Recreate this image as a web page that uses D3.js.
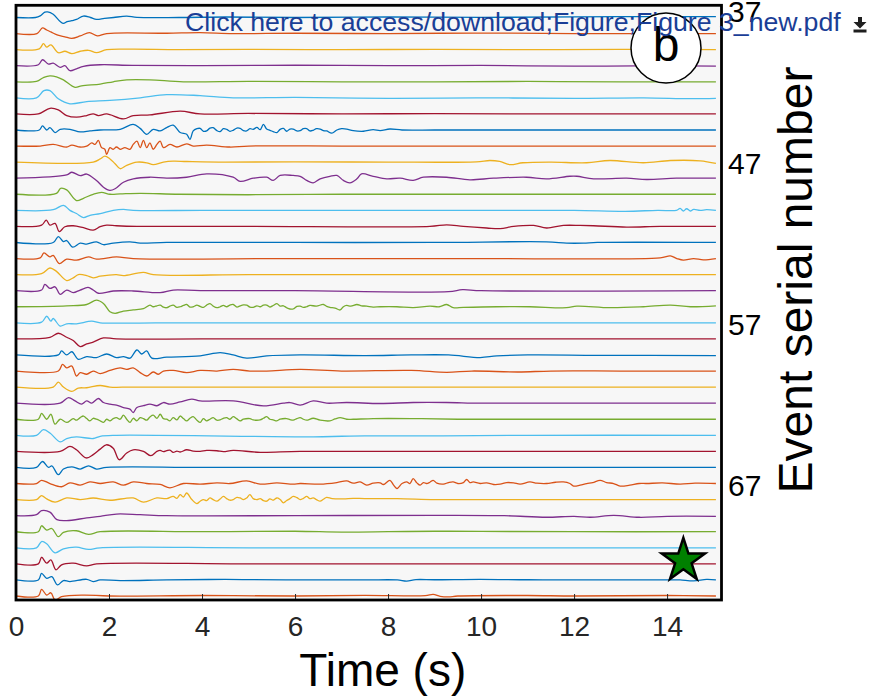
<!DOCTYPE html>
<html>
<head>
<meta charset="utf-8">
<script src="https://cdn.jsdelivr.net/npm/d3@7"></script>
<style>
  html, body { margin: 0; padding: 0; background: #ffffff; }
  svg { display: block; }
  text { font-family: "Liberation Sans", Arial, Helvetica, sans-serif; }
</style>
</head>
<body>
<svg id="chart" width="885" height="697"></svg>
<script>
// ---------------- DATA ----------------
// Event numbers of the plotted traces (top to bottom)
const firstEvent = 38;
const lastEvent = 74;
// Tick labels
const timeTicks = [0, 2, 4, 6, 8, 10, 12, 14];
const eventTicks = [37, 47, 57, 67];
// Series colours (cycled)
const traceColors = ["#0072BD", "#D95319", "#EDB120", "#7E2F8E", "#77AC30", "#4DBEEE", "#A2142F"];
// Marker
const starTime = 14.35;
const starEvent = 71.8;
// Waveforms: flattened [time (s), amplitude (tenths of trace spacing, up positive)] pairs
const w38 = [0,0, 0.42,0, 0.52,1, 0.62,3.3, 0.68,3.5, 0.8,2, 0.95,-2.5, 1.02,-3.7, 1.1,-2.6, 1.2,-2, 1.3,-1.2, 1.45,0.9, 1.6,0, 1.73,-1.2, 1.9,-0.6, 2.1,0, 2.38,0.8, 2.6,0.1, 3.5,0, 4.5,0.3, 6,0, 8,0.3, 10,0.1, 12,0.4, 13.5,0.6, 15.05,0.5];
const w39 = [0,0, 0.45,0, 0.57,3.5, 0.66,2.2, 0.75,1, 0.9,-1, 1.05,-2, 1.2,-3, 1.38,-1.5, 1.58,0.6, 1.75,-1.4, 1.95,0, 3.24,0.2, 3.96,0.6, 4.67,0, 6,0.2, 8,0, 10,0.3, 12,0, 15.05,0];
const w40 = [0,0, 0.5,0.5, 0.59,3.7, 0.66,1.6, 0.75,3, 0.91,-1.9, 1.05,-1, 1.2,-2.5, 1.38,-1, 1.56,-0.4, 1.73,-1.9, 1.95,0, 2.5,0.3, 3.5,0, 5,0.2, 7,0, 9,0.2, 11,0, 13,0.2, 15.05,0];
const w41 = [0,0, 0.48,0.6, 0.57,3.7, 0.7,1, 0.8,1.6, 0.95,-1, 1.05,0, 1.16,-3.1, 1.3,-1.9, 1.45,-0.4, 1.81,0.6, 2.5,0.2, 4,0, 6,0.3, 8,0, 10,0.2, 12,-0.3, 14,0, 15.05,-0.3];
const w42 = [0,0, 0.44,0.2, 0.6,2.8, 0.73,3.7, 0.87,3.1, 1.02,1.2, 1.27,-3.5, 1.41,-2.5, 1.81,-1.4, 2.09,0, 2.38,1.2, 2.88,1.2, 3.6,0, 5,0.3, 7,0, 9,0, 11,0.2, 13,0, 15.05,0];
const w43 = [0,0, 0.44,0, 0.6,4.5, 0.73,4.5, 0.91,-0.6, 1.16,-3.7, 1.52,-2.3, 2.02,-1.6, 2.67,0, 3.24,2, 3.96,1.4, 4.67,0, 6,0.3, 8,-0.3, 10,0, 12,-0.3, 13.5,0, 14.5,-0.5, 15.05,-0.3];
const w44 = [0,0, 0.48,0, 0.73,3.5, 0.91,2.5, 1.09,-1, 1.3,-2, 1.52,-1, 1.66,0, 1.77,-1, 1.95,0, 2.31,-3.1, 2.52,-1, 2.88,-0.6, 3.53,1.7, 3.96,0, 5,0.3, 7,0, 9,0.2, 11,0, 13,0, 15.05,0];
const w45 = [0,0, 0.5,0, 0.57,2.5, 0.66,0, 0.73,1.5, 0.84,-1.6, 0.95,0.4, 1.16,0.4, 1.38,-1.2, 1.59,-0.6, 1.81,0, 2.24,0.4, 2.52,3.5, 2.67,1, 2.81,-2.7, 2.95,0.4, 3.1,-0.6, 3.24,1.5, 3.38,3, 3.53,-1.6, 3.67,-2.7, 3.74,-5.8, 3.81,-0.6, 3.89,0.8, 3.96,1, 4.03,-0.8, 4.1,-0.6, 4.17,1.2, 4.24,1.4, 4.32,-0.4, 4.39,-1, 4.46,0.8, 4.53,0.4, 4.6,-0.8, 4.67,-0.2, 4.75,1.2, 4.82,1, 4.89,-0.4, 4.96,-0.6, 5.03,0.8, 5.1,0.4, 5.18,1.6, 5.25,0.2, 5.32,3.5, 5.39,0.6, 5.46,-0.2, 5.53,-1, 5.61,-1.6, 5.68,0.4, 5.75,1, 5.82,-0.8, 5.89,0.6, 5.96,0.6, 6.04,-0.6, 6.11,-0.4, 6.18,0.8, 6.25,0.8, 6.32,-0.6, 6.39,-0.2, 6.46,0.8, 6.54,0.6, 6.61,-0.4, 6.68,-0.6, 6.79,-2, 6.9,0, 7.0,0.8, 7.11,0.6, 7.25,-0.4, 7.47,-0.8, 7.68,0.2, 7.83,-0.4, 8.04,0.6, 8.3,0, 9,0, 10,0, 12,0, 15.05,0];
const w46 = [0,0, 0.52,0, 0.8,1, 1.09,-0.6, 1.2,0.6, 1.38,-0.6, 1.52,0, 1.63,2, 1.7,1, 1.77,3.5, 1.84,-1, 1.91,-2, 1.95,-5.2, 2.02,-1, 2.09,-2, 2.16,-0.6, 2.24,-2, 2.34,-1, 2.45,-2, 2.52,1, 2.6,3.1, 2.67,-1, 2.74,3.5, 2.81,-1, 2.88,2, 2.95,-2, 3.03,1, 3.1,3.1, 3.17,-1, 3.31,1, 3.46,-0.6, 3.67,1.4, 3.81,0, 4.1,0.6, 4.6,-0.6, 5,0, 7,0, 9,0, 11,0, 13,0, 15.05,0];
const w47 = [0,0, 1.66,0, 1.81,2, 1.91,3.7, 2.02,2, 2.13,-1, 2.24,-4.1, 2.38,-2, 2.6,0, 2.81,-0.4, 2.95,-1.6, 3.17,0, 3.38,0.6, 3.67,0.4, 4.5,0, 6,0.2, 8,0, 9.9,0.2, 10.19,1, 10.4,0.4, 10.62,-1.6, 10.9,-0.4, 11.5,0, 12.27,-0.4, 12.77,1, 13.49,-0.4, 14.07,1, 14.71,0.8, 15.05,-0.8];
const w48 = [0,0, 1.09,2, 1.2,3.7, 1.38,1.6, 1.52,2.6, 1.73,-1.4, 1.88,-5.6, 2.02,-7.6, 2.13,-6.6, 2.31,-2.5, 2.52,-0.4, 2.88,0.6, 3.24,0, 3.67,0.6, 4.1,2.7, 4.67,0.6, 4.82,-2, 5.1,0, 5.39,0.6, 5.53,-1.4, 5.68,1.7, 5.96,1.7, 6.11,1.2, 6.25,-1.4, 6.39,-2.9, 6.54,-0.4, 6.75,1.2, 6.9,1.7, 7.04,-1.4, 7.18,-2.9, 7.33,-0.4, 7.43,2.7, 7.68,1.2, 7.97,-0.4, 8.26,0, 8.54,-1.4, 8.76,0.6, 9.26,0.6, 9.76,-1, 10.27,0, 10.98,0.6, 11.41,-0.4, 11.91,1.2, 12.06,1.2, 12.42,-0.4, 13.13,0, 13.56,-0.8, 14.2,0, 15.05,0];
const w49 = [0,0, 0.87,0.6, 0.96,3.7, 1.09,2.7, 1.3,-3.9, 1.45,-2.5, 1.66,0, 1.84,1.2, 2.02,0, 2.24,0.2, 2.67,0.6, 3.5,0, 5,-0.3, 7,0, 9,0, 11,0, 13,0, 15.05,0];
const w50 = [0,0, 0.8,0.4, 1.02,3.1, 1.16,0, 1.3,-2, 1.45,-4.5, 1.59,-3.1, 1.81,-2, 2.09,0, 2.31,0.6, 2.52,0, 4,0, 6,0, 8,0, 10,0, 12,0, 13.1,-0.6, 13.8,0, 14.2,0, 14.28,1.2, 14.35,-0.4, 14.42,1, 14.5,-0.4, 14.57,0.6, 14.71,0, 14.85,0.4, 15.05,0];
const w51 = [0,0, 0.55,0.8, 0.65,3.9, 0.73,0.8, 0.84,1.9, 0.93,-3.3, 1.05,-0.2, 1.23,0.4, 1.45,-0.8, 1.66,-2.3, 1.81,-0.2, 1.95,0.8, 2.16,0.4, 2.6,0, 5,0, 8.9,0, 9.26,1, 9.62,0, 10.12,-1, 10.41,-1.4, 10.7,0, 11.13,0.6, 11.41,-1, 11.77,0.6, 12.13,0.6, 12.42,0.4, 13.13,-0.4, 13.85,0, 15.05,0];
const w52 = [0,0, 0.8,0, 0.91,3.7, 1.02,0.6, 1.09,1.2, 1.22,-2.9, 1.38,-0.4, 1.52,-1, 1.73,0.4, 1.88,-1.4, 2.09,-0.4, 2.45,0.4, 2.67,-0.4, 3.24,0, 6,0, 9,0, 11.41,0.4, 11.84,-0.4, 12.2,-0.4, 12.5,0, 15.05,0];
const w53 = [0,0, 0.52,0.4, 0.6,3.5, 0.73,1, 0.8,2, 0.93,-3.1, 1.09,-0.4, 1.3,-1, 1.56,1, 1.73,-0.4, 2.16,1, 2.52,0, 6,0, 10,0, 13.85,0.4, 14.07,1.6, 14.21,0, 14.35,-1, 14.57,0, 14.78,-0.8, 15.05,0];
const w54 = [0,0, 0.55,0.6, 0.73,4.1, 0.87,2, 1.09,-3.7, 1.23,-2, 1.34,0, 1.52,-0.6, 1.66,-2, 1.81,-1, 2.16,0, 2.31,-0.6, 2.74,1.4, 2.95,0, 5,0, 8,0, 11,0, 15.05,0];
const w55 = [0,0, 0.55,0.4, 0.62,3.9, 0.73,1.4, 0.84,2.4, 0.95,-2.3, 1.09,0.4, 1.23,-1.2, 1.38,0.4, 1.55,2, 1.66,0.4, 1.77,-1.6, 2.09,-0.2, 2.52,-0.2, 3.1,-1.2, 3.38,0.4, 3.96,0, 6,0, 9.3,-0.6, 9.6,0.6, 10,0, 15.05,0];
const w56 = [0,0, 1.09,0.6, 1.52,1.4, 1.73,4.1, 1.88,2, 2.02,-3.1, 2.13,-4.1, 2.31,-2.7, 2.52,-2, 2.74,-1.2, 2.88,1, 2.95,0, 3.03,0.6, 3.1,1, 3.17,-0.2, 3.24,-0.6, 3.31,0.4, 3.38,1, 3.46,-0.4, 3.53,0, 3.6,0.8, 3.67,1.4, 3.74,-0.2, 3.81,0, 3.89,1, 3.96,0.2, 4.03,-0.4, 4.1,1, 4.17,2, 4.24,0.4, 4.32,-0.6, 4.39,0, 4.46,0.8, 4.53,0, 4.6,1, 4.67,1.4, 4.75,-0.2, 4.82,0.6, 4.89,1.2, 4.96,1, 5.03,-0.2, 5.1,-0.4, 5.18,0.6, 5.25,0, 5.32,1, 5.39,1, 5.46,-0.2, 5.53,0.8, 5.61,2, 5.68,0.4, 5.75,0.6, 5.82,-0.6, 5.89,-1.4, 5.96,-1.4, 6.04,0.2, 6.11,0.4, 6.18,-0.4, 6.25,0, 6.32,0.8, 6.46,0.4, 6.61,1.4, 6.68,0.2, 6.75,-0.4, 6.86,-0.8, 6.97,-2, 7.04,0, 7.11,0.8, 7.2,0.4, 7.33,1.4, 7.43,0.6, 7.54,0.4, 7.68,-0.2, 7.83,0, 8.19,0, 8.54,-0.6, 8.9,0.4, 9.1,0, 9.26,1.4, 9.4,-0.6, 9.62,-0.4, 10.34,0, 11.05,0, 11.84,-0.6, 12.06,0.4, 12.77,-0.6, 13.49,0, 14.07,1, 14.5,0, 15.05,0.6];
const w57 = [0,0, 0.55,0.4, 0.66,4.1, 0.75,1, 0.8,2.7, 0.95,-2, 1.09,-0.6, 1.3,-0.6, 1.63,1, 1.81,0, 3,0, 6,0, 9,0, 12,0, 15.05,0];
const w58 = [0,0, 0.73,1, 0.91,3.5, 1.09,1, 1.23,-1, 1.38,-4.8, 1.52,-3.1, 1.66,-2, 1.88,0.6, 2.16,0, 4,0, 8,0, 12,0, 15.05,0];
const w59 = [0,0, 0.91,0, 0.98,2.5, 1.09,0, 1.2,2, 1.34,-2.7, 1.52,-1, 1.73,-1.6, 1.95,0.6, 2.16,-1.6, 2.31,-1, 2.45,-2, 2.6,3.1, 2.7,0.6, 2.81,2.5, 2.92,-2, 3.24,-1.4, 3.96,-0.6, 4.39,1.4, 4.67,0, 4.96,-2, 5.39,-0.6, 6.11,0, 7.5,-0.4, 8.5,0, 9.3,0, 9.98,-1.6, 10.34,-0.6, 11,0, 12.5,-0.2, 15.05,-0.4];
const w60 = [0,0, 0.91,0, 1.0,4.1, 1.09,2, 1.2,3.1, 1.3,-3.1, 1.38,-1, 1.52,-2, 1.66,0, 1.81,-1.6, 2.02,0.4, 2.24,2, 2.38,1, 2.52,2, 2.67,-1, 2.81,-3.1, 2.95,-0.6, 3.06,-2, 3.17,0, 3.38,0.4, 3.67,-1, 3.96,0.4, 4.32,0, 4.67,1, 5.03,0, 5.39,0, 6.11,1, 7,0, 8.5,0.4, 9.26,-0.8, 9.8,0, 10.8,-0.6, 11.5,0, 13,0, 15.05,0];
const w61 = [0,0, 0.8,0, 0.91,3.1, 1.02,0, 1.2,-2.7, 1.34,-0.6, 1.52,-0.4, 1.81,1, 2.02,0, 2.5,0, 5,0, 8,0, 11,0, 15.05,0];
const w62 = [0,0, 0.95,0, 1.13,3.5, 1.27,1.4, 1.41,-0.6, 1.52,1.4, 1.63,0, 1.77,2.9, 1.88,0.4, 2.02,-0.6, 2.16,-1.2, 2.31,-2.7, 2.45,-3.7, 2.52,-5.8, 2.6,-2.7, 2.74,-1.6, 2.88,-0.6, 3.03,-1.6, 3.17,0.4, 3.31,-0.6, 3.53,0.8, 3.78,2.5, 3.96,1.4, 4.67,1.4, 5.32,-1.7, 5.75,0, 5.89,0.4, 6.11,-1.2, 6.39,1.4, 6.68,0, 7.11,0.4, 7.83,-0.2, 8.54,0.4, 9.26,0.4, 10,0, 12,0, 15.05,0];
const w63 = [0,0, 0.48,0, 0.55,3.7, 0.66,0, 0.75,3.1, 0.84,-3.1, 0.95,0, 1.09,-2, 1.23,0.4, 1.3,-0.6, 1.38,1, 1.45,2, 1.52,0.4, 1.59,-1, 1.66,0.6, 1.73,0, 1.81,-1, 1.88,-2, 1.95,0, 2.02,-1, 2.09,0.4, 2.16,1, 2.24,0, 2.31,2.5, 2.38,0, 2.45,-2, 2.52,0.6, 2.6,-1, 2.67,1, 2.74,0.4, 2.81,-0.6, 2.88,1.4, 2.95,2.5, 3.03,0.6, 3.1,3.1, 3.17,0.4, 3.24,0, 3.31,-1, 3.38,1, 3.46,-0.4, 3.53,2, 3.6,0.4, 3.67,-1, 3.74,0.6, 3.81,1.6, 3.89,-0.6, 3.96,-2, 4.03,0.4, 4.1,-1, 4.17,0, 4.24,1, 4.32,-0.6, 4.39,-0.4, 4.46,0.6, 4.53,1, 4.6,0, 4.67,1.6, 4.75,0.2, 4.82,-1, 4.89,0, 5.03,0.4, 5.1,-0.4, 5.25,-0.4, 5.32,0.6, 5.39,1.6, 5.46,0, 5.53,-0.4, 5.61,-1, 5.68,0, 5.82,0.4, 5.89,-0.2, 5.96,-0.6, 6.04,0.4, 6.11,1, 6.18,0, 6.25,-0.6, 6.39,0.6, 6.54,-0.6, 6.75,-1, 6.86,0.2, 6.97,1, 7.11,0, 7.25,0, 7.68,0.4, 8.5,0.4, 9.5,0, 12,0, 15.05,0];
const w64 = [0,0, 0.44,0, 0.59,3.5, 0.73,1.4, 0.95,-4.1, 1.09,-2, 1.3,-1, 1.66,-2, 1.81,-0.6, 2.16,0, 6.4,-1, 7,-0.6, 7.5,-0.4, 9,-0.4, 11,0, 15.05,0];
const w65 = [0,0, 0.95,0, 1.16,3.1, 1.3,1, 1.51,-4.1, 1.66,-2, 1.81,1.4, 1.94,4.1, 2.09,2, 2.22,-5.2, 2.38,-1, 2.52,1, 2.74,0, 2.9,-2.7, 3.03,0, 3.1,0.6, 3.17,-0.2, 3.24,0.4, 3.31,0.8, 3.38,-0.6, 3.46,0.2, 3.53,-0.4, 3.67,1, 3.81,0.2, 3.96,0, 4.1,0.6, 4.32,0.4, 4.46,-0.2, 4.67,0.6, 5.25,-0.6, 6.11,0, 9,0, 12,0, 15.05,0];
const w66 = [0,0, 0.44,0, 0.57,3.7, 0.7,0, 0.77,1, 0.91,-4.5, 1.02,-1, 1.2,0.4, 1.38,-1, 1.56,1, 1.73,-1, 1.95,0, 4,0, 8,0, 12,0, 15.05,0];
const w67 = [0,0, 0.44,0, 0.55,2, 0.73,0, 0.98,-2, 1.16,0.4, 1.38,-1, 1.59,1, 1.81,0, 2.09,1, 2.31,-1, 2.52,1, 2.81,0, 3.1,-0.6, 3.31,-2.7, 3.6,0, 3.96,-0.4, 4.32,0.4, 4.6,0, 4.96,1.6, 5.25,-0.4, 5.61,0.4, 5.96,-0.4, 6.11,0, 6.54,-0.4, 6.9,0.6, 7.11,1.6, 7.25,0.2, 7.4,1, 7.54,-1, 7.68,0.2, 7.83,0.4, 7.9,-0.6, 8.04,2, 8.12,-1, 8.19,-3.1, 8.3,0, 8.4,1, 8.47,0, 8.54,3.1, 8.62,0.4, 8.69,-1, 8.76,0.6, 8.83,0, 8.9,0.8, 8.97,2, 9.05,0.2, 9.19,-0.4, 9.3,0.6, 9.4,1, 9.5,0, 9.62,0.6, 9.69,2.5, 9.76,0.6, 9.83,1, 9.98,0, 10.12,0.4, 10.27,-0.6, 10.41,-0.4, 10.55,0.6, 10.7,0.4, 10.84,-0.4, 11.05,1, 11.2,0.2, 11.41,0, 11.6,0.8, 11.77,1, 11.91,0, 11.99,-1.6, 12.13,-1, 12.27,0, 12.4,0.6, 12.56,2, 12.7,0.6, 12.85,0, 12.99,-1.6, 13.2,-1, 13.4,0, 13.56,0, 13.9,0.4, 14.28,-0.4, 14.6,0.2, 15.05,0];
const w68 = [0,0, 0.44,0, 0.55,2.5, 0.66,0.4, 0.84,-1.6, 1.09,1, 1.38,0, 1.66,1, 2.02,-0.4, 2.52,1, 2.74,-1.6, 3.03,1, 3.24,0.6, 3.38,2, 3.46,0.8, 3.53,3.1, 3.6,1.6, 3.67,4.1, 3.78,0, 3.89,-2.5, 3.96,-1, 4.03,0, 4.1,-0.6, 4.17,1, 4.24,0, 4.32,-1, 4.39,0.4, 4.46,2, 4.53,0.6, 4.6,-0.4, 4.67,0, 4.75,1.4, 4.82,1, 4.89,0, 4.96,1, 5.03,3.1, 5.1,0.6, 5.18,0, 5.25,0.6, 5.32,-0.6, 5.39,-1, 5.46,0.4, 5.53,-0.4, 5.61,1, 5.68,0, 5.75,-2, 5.82,-0.6, 5.89,0.6, 5.96,2, 6.04,1.2, 6.11,0, 6.18,0.8, 6.25,2, 6.32,0.6, 6.39,1, 6.46,0, 6.54,-1, 6.61,0.2, 6.68,1.4, 6.8,0.6, 7.04,0.4, 7.25,0.8, 7.5,0.6, 8.2,0.6, 9,0, 10,0, 12,0, 15.05,0];
const w69 = [0,0, 0.44,0.6, 0.55,3.1, 0.73,2.2, 0.88,-2.5, 1.09,-3.1, 1.52,-1.4, 1.81,-0.4, 2.16,1, 2.67,0.6, 3.24,0, 6,0, 9,0.2, 10.5,0, 11.4,-1, 12,-0.4, 12.35,-1, 12.85,0.2, 13.4,-1, 14,-0.4, 15.05,-0.4];
const w70 = [0,0, 0.48,0, 0.55,3.7, 0.66,1, 0.77,2, 0.91,-3.1, 1.02,-0.4, 1.3,0.6, 1.56,-1.6, 1.81,0, 4,0, 6,0.3, 7,-0.2, 8,0, 9,0.3, 10,0.2, 12,0, 15.05,0];
const w71 = [0,0, 0.44,0, 0.55,3.9, 0.66,2.5, 0.84,-3.1, 1.02,-0.6, 1.3,0.4, 1.56,-1, 1.81,0, 5,0, 10,0, 15.05,0];
const w72 = [0,0, 0.48,0, 0.55,4.1, 0.66,0.4, 0.75,2.5, 0.86,-3.7, 0.98,-0.6, 1.23,0.4, 1.52,-1.2, 1.73,0, 5,0, 10,0, 15.05,0];
const w73 = [0,0, 0.48,0, 0.55,4.1, 0.66,1, 0.77,2, 0.89,-3.1, 1.02,-0.4, 1.16,-1, 1.52,0.4, 1.66,-1, 1.81,0, 2.24,-0.4, 3.24,0, 4.5,0.3, 5.8,0, 7.5,0, 8.2,0, 8.4,-0.7, 8.6,0.2, 9,0.1, 9.98,0.4, 11,0.1, 12,0, 14.1,0, 14.28,0, 14.57,-0.6, 14.85,0.3, 15.05,0];
const w74 = [0,0, 0.48,0, 0.55,4.1, 0.66,0.6, 0.75,2, 0.84,-2.5, 0.98,-0.4, 1.45,0.6, 2,0, 4,0.3, 6,0, 7.5,0.4, 8.8,0.2, 8.97,1.0, 9.12,-0.2, 9.3,-0.6, 9.5,0, 11,0.3, 12,0, 14,0.3, 15.05,0];

const waveforms = [w38, w39, w40, w41, w42, w43, w44, w45, w46, w47, w48, w49, w50, w51, w52, w53, w54, w55, w56,
  w57, w58, w59, w60, w61, w62, w63, w64, w65, w66, w67, w68, w69, w70, w71, w72, w73, w74];

// ---------------- LAYOUT ----------------
const svg = d3.select("#chart");
const W = 885, H = 697;
const plot = { left: 16, right: 721.5, top: 5.3, bottom: 600 };

svg.append("rect").attr("width", W).attr("height", H).attr("fill", "#ffffff");

const x = d3.scaleLinear().domain([0, 15.17]).range([plot.left, plot.right]);
const y = d3.scaleLinear().domain([firstEvent, lastEvent]).range([17.5, 596]);

// plot background
svg.append("rect")
  .attr("x", plot.left).attr("y", plot.top)
  .attr("width", plot.right - plot.left).attr("height", plot.bottom - plot.top)
  .attr("fill", "#f7f7f7");

svg.append("clipPath").attr("id", "clip")
  .append("rect")
  .attr("x", plot.left).attr("y", plot.top)
  .attr("width", plot.right - plot.left).attr("height", plot.bottom - plot.top);

// traces
const line = d3.line()
  .x(d => x(d.t))
  .y(d => y(d.ev - d.v / 10))
  .curve(d3.curveCatmullRom.alpha(0.5));

const traces = waveforms.map((arr, i) => {
  const ev = firstEvent + i;
  const pts = [];
  for (let k = 0; k < arr.length; k += 2) pts.push({ t: arr[k], v: arr[k + 1], ev });
  return { ev, pts, color: traceColors[i % traceColors.length] };
});

svg.append("g").attr("clip-path", "url(#clip)")
  .selectAll("path").data(traces).join("path")
  .attr("d", d => line(d.pts))
  .attr("fill", "none")
  .attr("stroke", d => d.color)
  .attr("stroke-width", 1.3)
  .attr("stroke-linejoin", "round");

// x axis (ticks inward)
const xAxis = d3.axisBottom(x).tickValues(timeTicks).tickSizeInner(-6).tickSizeOuter(0).tickPadding(14);
const gx = svg.append("g").attr("transform", `translate(0,${plot.bottom})`).call(xAxis);
gx.select(".domain").remove();
gx.selectAll(".tick line").attr("stroke", "#262626").attr("stroke-width", 1);
gx.selectAll(".tick text")
  .attr("font-size", 28).attr("fill", "#262626")
  .attr("font-family", "'Liberation Sans', Arial, sans-serif")
  .attr("dy", "0.71em").attr("y", 16);

// y tick labels on right
const yAxis = d3.axisRight(y).tickValues(eventTicks).tickSize(0).tickPadding(0);
const gy = svg.append("g").attr("transform", `translate(728,0)`).call(yAxis);
gy.select(".domain").remove();
gy.selectAll(".tick")
  .attr("transform", d => `translate(0,${Math.max(11, y(d) + 1.5)})`);
gy.selectAll(".tick text")
  .attr("x", 0)
  .attr("font-size", 30).attr("fill", "#000000")
  .attr("font-family", "'Liberation Sans', Arial, sans-serif")
  .attr("text-anchor", "start")
  .attr("dy", "0.36em");

// frame
svg.append("rect")
  .attr("x", plot.left).attr("y", plot.top)
  .attr("width", plot.right - plot.left).attr("height", plot.bottom - plot.top)
  .attr("fill", "none").attr("stroke", "#000").attr("stroke-width", 2.8);

// axis titles
svg.append("text")
  .attr("x", (x(0) + x(15.17)) / 2 + 14).attr("y", 686)
  .attr("text-anchor", "middle").attr("font-size", 46).attr("fill", "#000")
  .text("Time (s)");

svg.append("text")
  .attr("transform", "translate(812,280) rotate(-90)")
  .attr("text-anchor", "middle").attr("font-size", 48).attr("fill", "#000")
  .text("Event serial number");

// panel label "b"
svg.append("circle").attr("cx", 666).attr("cy", 48).attr("r", 35)
  .attr("fill", "#ffffff").attr("stroke", "#000").attr("stroke-width", 1.5);
svg.append("text").attr("x", 666).attr("y", 61)
  .attr("text-anchor", "middle").attr("font-size", 48).attr("fill", "#000").text("b");

// star marker
const star = d3.symbol().type(d3.symbolStar).size(580);
svg.append("path")
  .attr("d", star())
  .attr("transform", `translate(${x(starTime)},${y(starEvent)})`)
  .attr("fill", "#008000").attr("stroke", "#000").attr("stroke-width", 2.5)
  .attr("stroke-linejoin", "miter");

// download link overlay
svg.append("text").attr("x", 185).attr("y", 31)
  .attr("font-size", 26.7).attr("fill", "#1a3e96")
  .text("Click here to access/download;Figure;Figure 3_new.pdf");
svg.append("path")
  .attr("d", "M858,17 h4 v5 h4.5 l-6.5,6.5 l-6.5,-6.5 h4.5 z M853.5,29.5 h13 v3 h-13 z")
  .attr("fill", "#1f1f1f");
</script>
</body>
</html>
